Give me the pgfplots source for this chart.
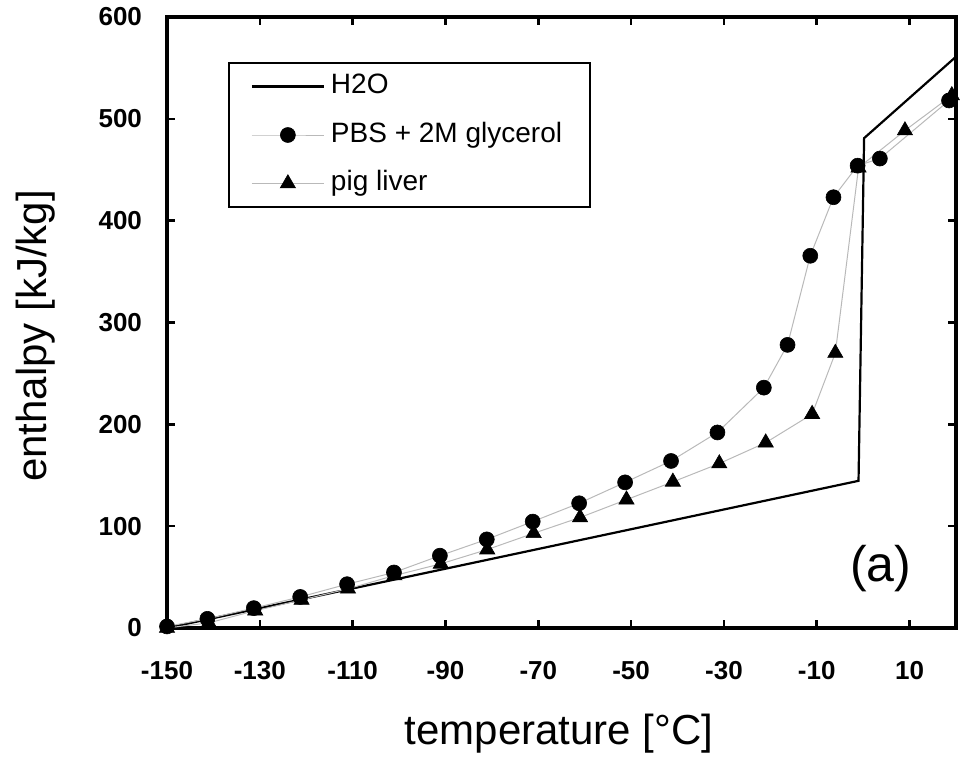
\documentclass[border=0pt]{standalone}
\usepackage{pgfplots}
\pgfplotsset{compat=1.18}
\usepackage{fontspec}
\setmainfont{Liberation Sans}
\definecolor{lgray}{RGB}{185,185,185}
\begin{document}
\begin{tikzpicture}
\begin{axis}[
  scale only axis, width=394.5pt, height=305.5pt,
  xmin=-150, xmax=20, ymin=0, ymax=600,
  clip=false,
  xtick={-150,-130,-110,-90,-70,-50,-30,-10,10},
  xticklabels={-150,-130,-110,-90,-70,-50,-30,-10,10},
  ytick={0,100,200,300,400,500,600},
  yticklabels={0,100,200,300,400,500,600},
  tick align=inside,
  major tick length=3.8pt,
  axis line style={line width=1.6pt},
  every tick/.style={black, line width=1.3pt},
  ticklabel style={font=\fontsize{13}{15}\selectfont\bfseries},
  xticklabel style={yshift=-13pt},
  yticklabel style={xshift=-9pt},
  xlabel={temperature [°C]},
  ylabel={enthalpy [kJ/kg]},
  label style={font=\fontsize{21}{25}\selectfont},
  xlabel style={at={([yshift=-58.5pt]axis description cs:0.497,0)}, anchor=base},
  ylabel style={at={([xshift=-60pt]axis description cs:0,0.478)}, anchor=base, rotate=0},
  legend style={at={(0.0773,0.926)}, anchor=north west, draw=black, line width=0.8pt,
    font=\fontsize{14}{16}\selectfont, row sep=11.25pt, inner xsep=11pt, inner ysep=5.25pt,
    nodes={text height=10pt, text depth=3pt, inner ysep=0pt, inner xsep=3pt}},
  legend cell align=left,
  legend image code/.code={\draw[mark repeat=2,mark phase=2] plot coordinates {(0pt,0pt)(18pt,0pt)(36pt,0pt)};},
]
\addplot[black, line width=1.1pt, mark=none] coordinates {
(-150,0) (-1.0,144.5) (0.2,481) (20,561)
};
\addlegendentry{H2O}
\addplot[lgray, line width=0.5pt, mark=*, mark size=3.75pt, mark options={fill=black, draw=black, line width=0.3pt}] coordinates {
(-150,1.5) (-141.3,9) (-131.3,19.5) (-121.3,30.5) (-111.2,43) (-101.1,54.5) (-91.2,71) (-81.1,87) (-71.2,104.5) (-61.2,122.5) (-51.3,143) (-41.4,164) (-31.4,192) (-21.4,236) (-16.3,278) (-11.4,365.5) (-6.4,423) (-1.2,454) (3.6,461) (18.5,518)
};
\addlegendentry{PBS + 2M glycerol}
\addplot[lgray, line width=0.5pt, mark=triangle*, mark size=4.4pt, mark options={fill=black, draw=black, line width=0.3pt}] coordinates {
(-150,0) (-141,5) (-131,17) (-121,27.5) (-111,38.5) (-101,51.5) (-91,63) (-81,77) (-71,93) (-61,108.5) (-51,126) (-41,143.5) (-31,161.5) (-21,182) (-11,210) (-6,270) (-1,452) (9,488.5) (19.1,523)
};
\addlegendentry{pig liver}
\node[anchor=base, font=\fontsize{25}{30}\selectfont] at (axis cs:3.8,45.2) {(a)};
\end{axis}
\pgfresetboundingbox
\path ([xshift=-83.5pt,yshift=-68.5pt]current axis.south west) rectangle ([xshift=4.5pt,yshift=8.5pt]current axis.north east);
\end{tikzpicture}
\end{document}
